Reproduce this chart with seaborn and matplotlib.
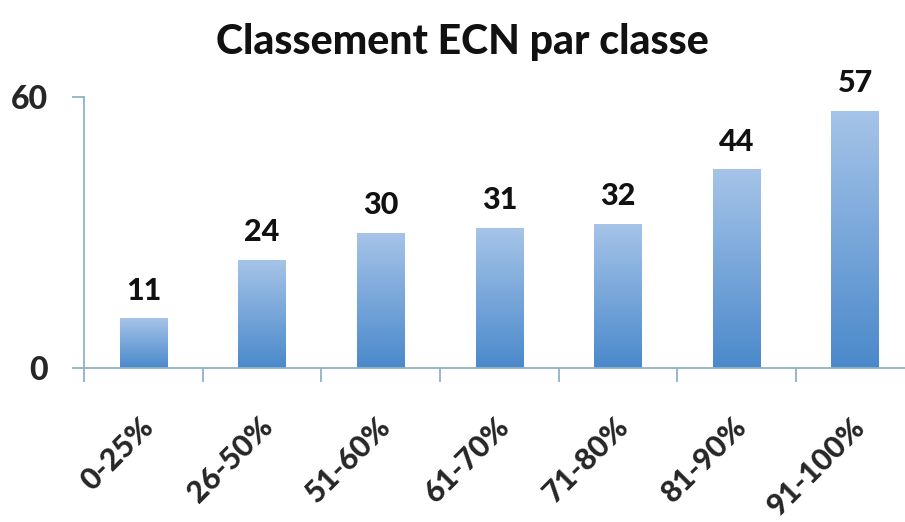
import numpy as np
import pandas as pd
import matplotlib
matplotlib.use("Agg")
import matplotlib.pyplot as plt
import matplotlib.transforms as mtransforms
from matplotlib.colors import LinearSegmentedColormap
import seaborn as sns

categories = ["0-25%", "26-50%", "51-60%", "61-70%", "71-80%", "81-90%", "91-100%"]
counts = [11, 24, 30, 31, 32, 44, 57]
yticks = [0, 60]

sns.set_style("white")
plt.rcParams["font.family"] = ["Lato", "DejaVu Sans"]
plt.rcParams["font.weight"] = "black"

df = pd.DataFrame({"classe": categories, "n": counts})

fig = plt.figure(figsize=(9.05, 5.22), dpi=100)
ax = fig.add_axes([0.093, 0.295, 0.907, 0.519])

sns.barplot(data=df, x="classe", y="n", width=0.4, color="#6a9fd8", ax=ax)

# degrade vertical dans chaque barre
grad = LinearSegmentedColormap.from_list("g", ["#4a89cb", "#a6c4e8"])
for p in ax.patches:
    x0, y0 = p.get_x(), p.get_y()
    w, h = p.get_width(), p.get_height()
    img = ax.imshow(np.linspace(0, 1, 256).reshape(-1, 1), cmap=grad, origin="lower",
                    extent=[x0, x0 + w, y0, y0 + h], aspect="auto", zorder=2)
    img.set_clip_path(p)
    p.set_edgecolor("none")
ax.set_ylim(0, 60)
ax.set_xlim(-0.5, 6.42)

for i, v in enumerate(counts):
    ax.text(i, v + 3, str(v), ha="center", va="bottom", fontsize=22, fontweight="black", color="#111111")

spine_col = "#8fb3c6"
sns.despine(ax=ax, top=True, right=True)
ax.spines["left"].set_color(spine_col)
ax.spines["bottom"].set_color(spine_col)
ax.spines["left"].set_linewidth(1.3)
ax.spines["bottom"].set_linewidth(1.3)

ax.set_yticks(yticks)
ax.set_yticklabels([str(t) for t in yticks], fontsize=23, fontweight="black")
ax.tick_params(axis="y", left=True, length=9, width=1.3, color=spine_col, pad=17)

ax.set_xticks(range(len(categories)))
ax.set_xticklabels(categories, rotation=45, ha="right", rotation_mode="anchor",
                   fontsize=22, fontweight="black")
ax.tick_params(axis="x", bottom=False, length=0, pad=32)
offset = mtransforms.ScaledTranslation(-4 / 100, 0, fig.dpi_scale_trans)
for lab in ax.get_xticklabels():
    lab.set_transform(lab.get_transform() + offset)

ax.set_xticks(np.arange(-0.5, 6.5, 1), minor=True)
ax.tick_params(axis="x", which="minor", bottom=True, length=10, width=1.3, color=spine_col)

ax.set_xlabel("")
ax.set_ylabel("")

fig.text(0.511, 0.92, "Classement ECN par classe", ha="center", va="center",
         fontsize=29.5, fontweight="black", color="#111111")

fig.savefig("out.png", dpi=100)
